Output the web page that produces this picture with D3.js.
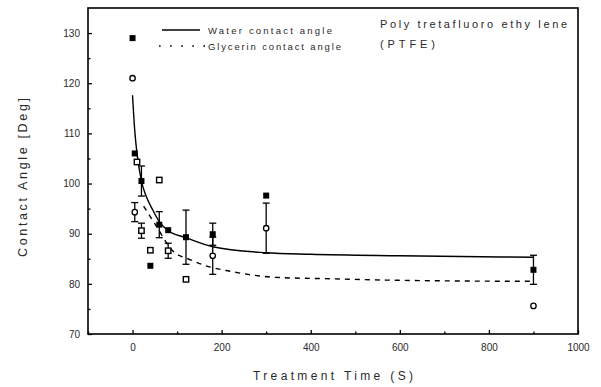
<!DOCTYPE html>
<html><head><meta charset="utf-8">
<script src="https://cdn.jsdelivr.net/npm/d3@7"></script>
<style>body{margin:0;background:#fff}svg{display:block}text{font-family:"Liberation Sans",Arial,sans-serif;fill:#2a2a2a}</style>
</head><body><svg id="c" width="601" height="387"></svg>
<script>
// ---- data ----
const xTicks = [0, 200, 400, 600, 800, 1000];
const xMinorTicks = [-100, 100, 300, 500, 700, 900];
const yTicks = [70, 80, 90, 100, 110, 120, 130];
const yMinorTicks = [75, 85, 95, 105, 115, 125];

const waterX   = [0, 5, 20, 40, 60, 80, 120, 180, 300, 900];
const waterY   = [129, 106, 100.5, 83.6, 91.8, 90.7, 89.3, 89.9, 97.6, 82.8];
const waterErr = [0, 0, 3, 0, 2.6, 0, 5.4, 2.2, 0, 2.9];

const glyCircleX   = [0, 5, 180, 300, 900];
const glyCircleY   = [121, 94.3, 85.6, 91.1, 75.6];
const glyCircleErr = [0, 1.9, 3.7, 5, 0];

const glySquareX   = [10, 20, 40, 60, 80, 120];
const glySquareY   = [104.3, 90.6, 86.7, 100.7, 86.6, 80.9];
const glySquareErr = [0, 1.5, 0, 0, 1.5, 0];

const waterFitX = [0, 5, 10, 20, 30, 45, 60, 80, 120, 180, 300, 400, 600, 900];
const waterFitY = [117.6, 110.5, 106, 100.5, 97.6, 94.8, 92.4, 90.6, 89.2, 87.4, 86.2, 85.9, 85.6, 85.3];
const glyFitX = [25, 50, 90, 130, 165, 220, 320, 450, 600, 900];
const glyFitY = [95.5, 92, 86.6, 84.8, 83.6, 82.5, 81.3, 81.0, 80.7, 80.5];

const legendLabels = ["Water contact angle", "Glycerin contact angle"];
const titleLines = ["Poly tretafluoro ethy lene", "(PTFE)"];
const xLabel = "Treatment Time (S)";
const yLabel = "Contact Angle [Deg]";

// ---- layout ----
const svg = d3.select("#c");
const L = 88, T = 8, R = 578, B = 334;
const x = d3.scaleLinear().domain([-100, 1000]).range([L, R]);
const y = d3.scaleLinear().domain([70, 135]).range([B, T]);

// axes (ticks inward)
const gx = svg.append("g").attr("transform", `translate(0,${B})`)
  .call(d3.axisBottom(x).tickValues(xTicks).tickSize(-4).tickPadding(10).tickFormat(d3.format("d")));
const gxm = svg.append("g").attr("transform", `translate(0,${B})`)
  .call(d3.axisBottom(x).tickValues(xMinorTicks).tickSize(-2.5).tickFormat(""));
const gy = svg.append("g").attr("transform", `translate(${L},0)`)
  .call(d3.axisLeft(y).tickValues(yTicks).tickSize(-4).tickPadding(8));
const gym = svg.append("g").attr("transform", `translate(${L},0)`)
  .call(d3.axisLeft(y).tickValues(yMinorTicks).tickSize(-2.5).tickFormat(""));
[gx, gxm, gy, gym].forEach(g => {
  g.select(".domain").remove();
  g.selectAll(".tick line").attr("stroke", "#000").attr("stroke-width", 1.3);
  g.selectAll(".tick text").attr("font-size", 10).attr("fill", "#333")
    .style("font-family", '"Liberation Sans",Arial,sans-serif');
});
gx.selectAll(".tick text").attr("dy", "0.35em").attr("y", 13);

// frame
svg.append("rect").attr("x", L).attr("y", T).attr("width", R - L).attr("height", B - T)
  .attr("fill", "none").attr("stroke", "#000").attr("stroke-width", 1.6);

// fit curves
const line = d3.line().x(d => x(d[0])).y(d => y(d[1])).curve(d3.curveMonotoneX);
svg.append("path").datum(waterFitX.map((v, i) => [v, waterFitY[i]]))
  .attr("d", line).attr("fill", "none").attr("stroke", "#000").attr("stroke-width", 1.4);
svg.append("path").datum(glyFitX.map((v, i) => [v, glyFitY[i]]))
  .attr("d", line).attr("fill", "none").attr("stroke", "#000").attr("stroke-width", 1.4)
  .attr("stroke-dasharray", "5,5");

// error bars
function errBars(xs, ys, es) {
  xs.forEach((xv, i) => {
    if (!es[i]) return;
    const cx = x(xv), y1 = y(ys[i] - es[i]), y2 = y(ys[i] + es[i]);
    const g = svg.append("g").attr("stroke", "#000").attr("stroke-width", 1.3);
    g.append("line").attr("x1", cx).attr("x2", cx).attr("y1", y1).attr("y2", y2);
    g.append("line").attr("x1", cx - 3.5).attr("x2", cx + 3.5).attr("y1", y1).attr("y2", y1);
    g.append("line").attr("x1", cx - 3.5).attr("x2", cx + 3.5).attr("y1", y2).attr("y2", y2);
  });
}
errBars(waterX, waterY, waterErr);
errBars(glyCircleX, glyCircleY, glyCircleErr);
errBars(glySquareX, glySquareY, glySquareErr);

// markers
const s = 6;
svg.append("g").selectAll("rect").data(waterX).join("rect")
  .attr("x", (d) => x(d) - s / 2).attr("y", (d, i) => y(waterY[i]) - s / 2)
  .attr("width", s).attr("height", s).attr("fill", "#000");
svg.append("g").selectAll("circle").data(glyCircleX).join("circle")
  .attr("cx", d => x(d)).attr("cy", (d, i) => y(glyCircleY[i])).attr("r", 2.7)
  .attr("fill", "#fff").attr("stroke", "#000").attr("stroke-width", 1.3);
svg.append("g").selectAll("rect").data(glySquareX).join("rect")
  .attr("x", (d) => x(d) - 2.7).attr("y", (d, i) => y(glySquareY[i]) - 2.7)
  .attr("width", 5.4).attr("height", 5.4).attr("fill", "#fff").attr("stroke", "#000").attr("stroke-width", 1.4);

// legend
svg.append("line").attr("x1", 162).attr("x2", 200).attr("y1", 30).attr("y2", 30)
  .attr("stroke", "#000").attr("stroke-width", 1.5);
svg.append("line").attr("x1", 159).attr("x2", 206).attr("y1", 46).attr("y2", 46)
  .attr("stroke", "#000").attr("stroke-width", 1.6).attr("stroke-dasharray", "1.6,9.5");
svg.append("text").attr("x", 208).attr("y", 33.5).attr("font-size", 9.5)
  .attr("textLength", 124).attr("lengthAdjust", "spacing").text(legendLabels[0]);
svg.append("text").attr("x", 208).attr("y", 49.5).attr("font-size", 9.5)
  .attr("textLength", 133).attr("lengthAdjust", "spacing").text(legendLabels[1]);

// title
svg.append("text").attr("x", 380).attr("y", 28).attr("font-size", 11)
  .attr("textLength", 187).attr("lengthAdjust", "spacing").text(titleLines[0]);
svg.append("text").attr("x", 380).attr("y", 48).attr("font-size", 11)
  .attr("textLength", 55).attr("lengthAdjust", "spacing").text(titleLines[1]);

// axis labels
svg.append("text").attr("x", 253).attr("y", 380).attr("font-size", 12)
  .attr("textLength", 160).attr("lengthAdjust", "spacing").text(xLabel);
svg.append("text").attr("transform", "translate(27,257) rotate(-90)").attr("font-size", 12.5)
  .attr("textLength", 159).attr("lengthAdjust", "spacing").text(yLabel);
</script></body></html>
